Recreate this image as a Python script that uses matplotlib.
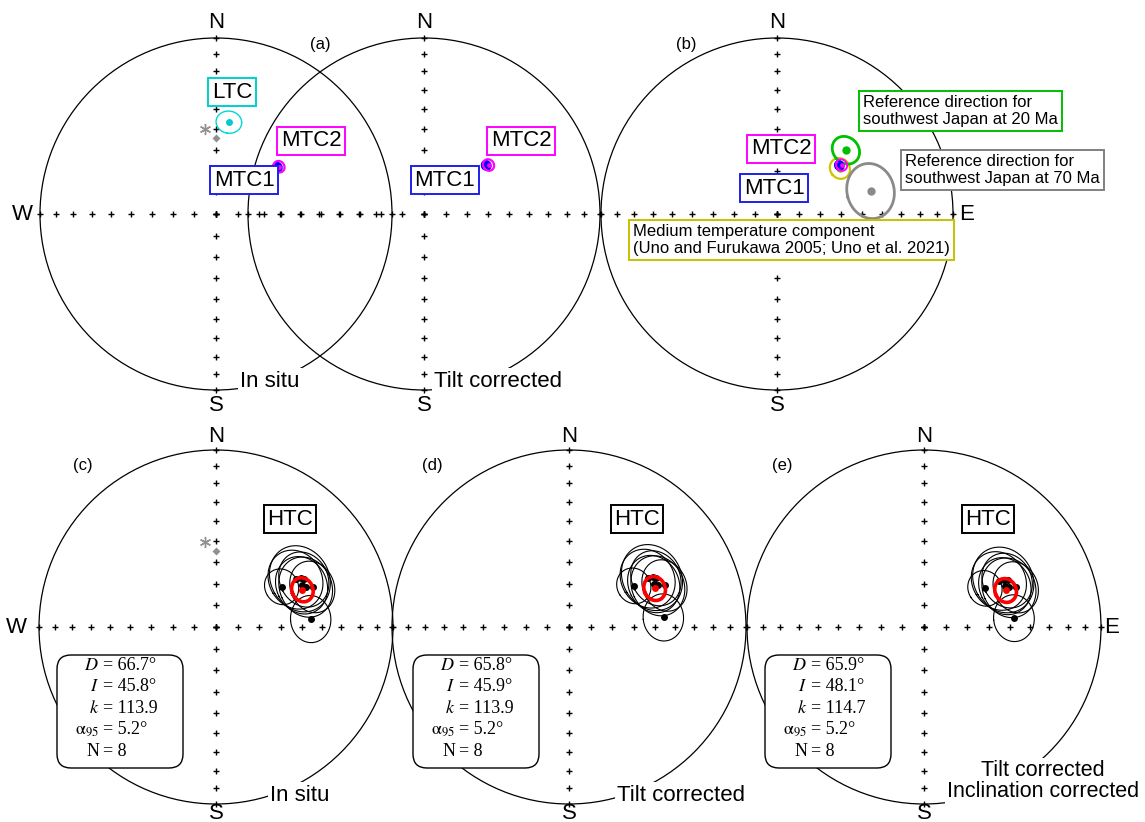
import numpy as np
import matplotlib.pyplot as plt
from matplotlib.patches import Circle, FancyBboxPatch

plt.rcParams['font.family'] = ['Liberation Sans', 'DejaVu Sans']
plt.rcParams['mathtext.fontset'] = 'stix'

### Directions (declination, inclination, alpha95) in degrees

# present field and GAD field at the site
pdf_dec, pdf_inc = -7.5, 49.8
gad_dec, gad_inc = 0.0, 54.5

# low / medium temperature components
ltc_insitu = (8.0, 46.2, 5.5)
mtc1_insitu = (52.7, 53.9, 2.0)
mtc2_insitu = (53.1, 53.1, 2.6)
mtc1_tilt = (52.0, 53.0, 2.0)
mtc2_tilt = (52.8, 52.0, 2.6)

# reference directions
ref20 = (47.2, 45.6, 6.3)
ref70 = (76.2, 44.2, 11.8)
mtc_prev = (54.1, 53.6, 4.7)

# high temperature component, site means
htc_a95 = [8.0, 13.0, 14.5, 12.0, 11.0, 10.0, 12.5, 13.0]
htc_dec_insitu = [58.5, 59.2, 60.1, 61.6, 67.4, 85.2, 64.0, 66.0]
htc_inc_insitu = [54.1, 46.3, 44.1, 42.7, 40.5, 45.2, 45.0, 43.5]
htc_dec_tilt = [57.6, 58.4, 59.2, 60.7, 66.5, 84.2, 63.1, 65.1]
htc_inc_tilt = [54.2, 46.4, 44.2, 42.8, 40.6, 45.3, 45.1, 43.6]
htc_dec_incl = [57.6, 58.4, 59.3, 60.8, 66.6, 84.4, 63.2, 65.2]
htc_inc_incl = [56.4, 48.6, 46.4, 45.0, 42.7, 47.5, 47.3, 45.8]

# Fisher statistics of the HTC
stat_D = [66.7, 65.8, 65.9]
stat_I = [45.8, 45.9, 48.1]
stat_k = [113.9, 113.9, 114.7]
stat_a95 = [5.2, 5.2, 5.2]
stat_N = [8, 8, 8]

tick_incs = [0, 10, 20, 30, 40, 50, 60, 70, 80, 90]


def proj(dec, inc, cx, cy, rad):
    # equal-area (Schmidt) projection, y grows downward
    d = np.radians(dec)
    i = np.radians(np.abs(inc))
    r = rad * np.sqrt(2) * np.sin((np.pi / 2 - i) / 2)
    return cx + r * np.sin(d), cy - r * np.cos(d)


def cone(dec, inc, a95, cx, cy, rad, n=200):
    d, i, a = np.radians([dec, inc, a95])
    c = np.array([np.cos(i) * np.cos(d), np.cos(i) * np.sin(d), np.sin(i)])
    e1 = np.array([-np.sin(i) * np.cos(d), -np.sin(i) * np.sin(d), np.cos(i)])
    e2 = np.array([-np.sin(d), np.cos(d), 0.0])
    t = np.linspace(0, 2 * np.pi, n)
    v = np.cos(a) * c[:, None] + np.sin(a) * (np.cos(t) * e1[:, None] + np.sin(t) * e2[:, None])
    dd = np.degrees(np.arctan2(v[1], v[0]))
    ii = np.degrees(np.arcsin(np.clip(v[2], -1, 1)))
    return proj(dd, ii, cx, cy, rad)


def net(ax, cx, cy, rad):
    ax.add_patch(Circle((cx, cy), rad, fill=False, ec='black', lw=0.9, zorder=1))
    for az in [0, 90, 180, 270]:
        x, y = proj(np.full(len(tick_incs), az), np.array(tick_incs), cx, cy, rad)
        ax.plot(x, y, '+', color='black', ms=5, mew=1.0, zorder=2)


def direction(ax, dv, cx, cy, rad, ring, dot, ms=5, lw=1.0, z=4):
    x, y = cone(dv[0], dv[1], dv[2], cx, cy, rad)
    ax.plot(x, y, color=ring, lw=lw, zorder=z)
    px, py = proj(dv[0], dv[1], cx, cy, rad)
    ax.plot(px, py, 'o', color=dot, ms=ms, mec='none', zorder=z + 0.5)


def fields(ax, cx, cy, rad):
    x, y = proj(pdf_dec, pdf_inc, cx, cy, rad)
    ax.plot(x, y, marker=(6, 2, 0), color='#909090', ms=8, mew=1.0, zorder=3)
    x, y = proj(gad_dec, gad_inc, cx, cy, rad)
    ax.plot(x, y, 'D', color='#909090', ms=4.5, mec='none', zorder=3)


def label(ax, x, y, s, edge, fs=16):
    ax.text(x, y, s, fontsize=fs, ha='center', va='center', zorder=8,
            bbox=dict(boxstyle='square,pad=0.15', fc='white', ec=edge, lw=1.4))


def plain(ax, x, y, s, fs=16, ha='left', va='center'):
    ax.text(x, y, s, fontsize=fs, ha=ha, va=va, zorder=8,
            bbox=dict(boxstyle='square,pad=0.1', fc='white', ec='none'))


fig = plt.figure(figsize=(11.45, 8.22), dpi=100)
ax = fig.add_axes([0, 0, 1, 1])
ax.set_xlim(0, 1145)
ax.set_ylim(822, 0)
ax.axis('off')

### top row
Rt = 176
top = [(216, 214), (424, 214), (777, 214)]
for cx, cy in top:
    net(ax, cx, cy, Rt)
    ax.text(cx, 22, 'N', fontsize=16, ha='center', va='center')
    ax.text(cx, 405, 'S', fontsize=16, ha='center', va='center')
ax.text(22, 214, 'W', fontsize=16, ha='center', va='center')
ax.text(967, 214, 'E', fontsize=16, ha='center', va='center')
ax.text(320, 44, '(a)', fontsize=12, ha='center', va='center')
ax.text(686, 44, '(b)', fontsize=12, ha='center', va='center')

# (a) in situ
cx, cy = top[0]
fields(ax, cx, cy, Rt)
direction(ax, ltc_insitu, cx, cy, Rt, '#00d8d8', '#00cccc')
direction(ax, mtc1_insitu, cx, cy, Rt, '#0000ff', '#0000ff', ms=6, lw=1.6)
direction(ax, mtc2_insitu, cx, cy, Rt, '#ff00ff', '#ff00ff', ms=3.5, lw=1.6, z=5)
label(ax, 232, 92, 'LTC', '#00d0d0')
label(ax, 311, 141, 'MTC2', '#ff00ff')
label(ax, 244, 180, 'MTC1', '#2020e8')
plain(ax, 240, 381, 'In situ')

# tilt corrected
cx, cy = top[1]
direction(ax, mtc1_tilt, cx, cy, Rt, '#0000ff', '#0000ff', ms=6, lw=1.6)
direction(ax, mtc2_tilt, cx, cy, Rt, '#ff00ff', '#ff00ff', ms=3.5, lw=1.6, z=5)
label(ax, 521, 141, 'MTC2', '#ff00ff')
label(ax, 445, 180, 'MTC1', '#2020e8')
plain(ax, 434, 381, 'Tilt corrected')

# (b) comparison with reference directions
cx, cy = top[2]
direction(ax, ref20, cx, cy, Rt, '#00c000', '#00c000', ms=6, lw=2.0)
direction(ax, ref70, cx, cy, Rt, '#8a8a8a', '#8a8a8a', ms=6, lw=2.0)
direction(ax, mtc_prev, cx, cy, Rt, '#d0c400', '#a89c00', ms=6, lw=1.6, z=3)
direction(ax, mtc1_tilt, cx, cy, Rt, '#0000ff', '#0000ff', ms=5, lw=1.4)
direction(ax, mtc2_tilt, cx, cy, Rt, '#ff00ff', '#ff00ff', ms=3.5, lw=1.4, z=5)
label(ax, 781, 149, 'MTC2', '#ff00ff')
label(ax, 774, 188, 'MTC1', '#2020e8')
ax.text(863, 111, 'Reference direction for\nsouthwest Japan at 20 Ma', fontsize=12,
        ha='left', va='center', linespacing=1.1, zorder=8,
        bbox=dict(boxstyle='square,pad=0.25', fc='white', ec='#00c000', lw=1.4))
ax.text(905, 170, 'Reference direction for\nsouthwest Japan at 70 Ma', fontsize=12,
        ha='left', va='center', linespacing=1.1, zorder=8,
        bbox=dict(boxstyle='square,pad=0.25', fc='white', ec='#808080', lw=1.4))
ax.text(633, 240, 'Medium temperature component\n(Uno and Furukawa 2005; Uno et al. 2021)',
        fontsize=12, ha='left', va='center', linespacing=1.1, zorder=8,
        bbox=dict(boxstyle='square,pad=0.25', fc='white', ec='#c8c000', lw=1.4))

### bottom row
Rb = 177
bottom = [(216, 627), (569, 627), (924, 627)]
site_sets = [(htc_dec_insitu, htc_inc_insitu),
             (htc_dec_tilt, htc_inc_tilt),
             (htc_dec_incl, htc_inc_incl)]
panel_tags = ['(c)', '(d)', '(e)']
tag_x = [83, 432, 782]
htc_x = [290, 637, 988]
box_x = [57, 413, 765]

for j, (cx, cy) in enumerate(bottom):
    net(ax, cx, cy, Rb)
    ax.text(cx, 436, 'N', fontsize=16, ha='center', va='center')
    ax.text(cx, 813, 'S', fontsize=16, ha='center', va='center')
    ax.text(tag_x[j], 465, panel_tags[j], fontsize=12, ha='center', va='center')

    decs, incs = site_sets[j]
    for d, i, a in zip(decs, incs, htc_a95):
        x, y = cone(d, i, a, cx, cy, Rb)
        ax.plot(x, y, color='black', lw=0.8, zorder=3)
    px, py = proj(np.array(decs), np.array(incs), cx, cy, Rb)
    ax.plot(px, py, 'o', color='black', ms=5, mec='none', zorder=4)

    x, y = cone(stat_D[j], stat_I[j], stat_a95[j], cx, cy, Rb)
    ax.plot(x, y, color='#ff0000', lw=2.6, zorder=5)
    px, py = proj(stat_D[j], stat_I[j], cx, cy, Rb)
    ax.plot(px, py, 'o', color='#ff0000', ms=5, mec='none', zorder=6)

    label(ax, htc_x[j], 519, 'HTC', 'black')

    # statistics box
    bx = box_x[j]
    ax.add_patch(FancyBboxPatch((bx + 6, 661), 114, 101,
                                boxstyle='round,pad=6,rounding_size=14',
                                fc='white', ec='black', lw=1.0, zorder=7))
    xe = bx + 42
    rows = [(r'$D$', '= %.1f°' % stat_D[j]),
            (r'$I$', '= %.1f°' % stat_I[j]),
            (r'$k$', '= %.1f' % stat_k[j]),
            (r'$\mathrm{α}_{95}$', '= %.1f°' % stat_a95[j]),
            ('N', '= %d' % stat_N[j])]
    for n, (lhs, rhs) in enumerate(rows):
        yy = 665 + n * 21.5
        ax.text(xe, yy, lhs, fontsize=13, ha='right', va='center', zorder=9,
                family='Liberation Serif')
        ax.text(xe + 4, yy, rhs, fontsize=13, ha='left', va='center', zorder=9,
                family='Liberation Serif')

fields(ax, bottom[0][0], bottom[0][1], Rb)
ax.text(16, 627, 'W', fontsize=16, ha='center', va='center')
ax.text(1112, 627, 'E', fontsize=16, ha='center', va='center')
plain(ax, 270, 795, 'In situ')
plain(ax, 617, 795, 'Tilt corrected')
ax.text(1043, 781, 'Tilt corrected\nInclination corrected', fontsize=15.5,
        ha='center', va='center', linespacing=1.0, zorder=8,
        bbox=dict(boxstyle='square,pad=0.1', fc='white', ec='none'))

fig.savefig('out.png', dpi=100)
